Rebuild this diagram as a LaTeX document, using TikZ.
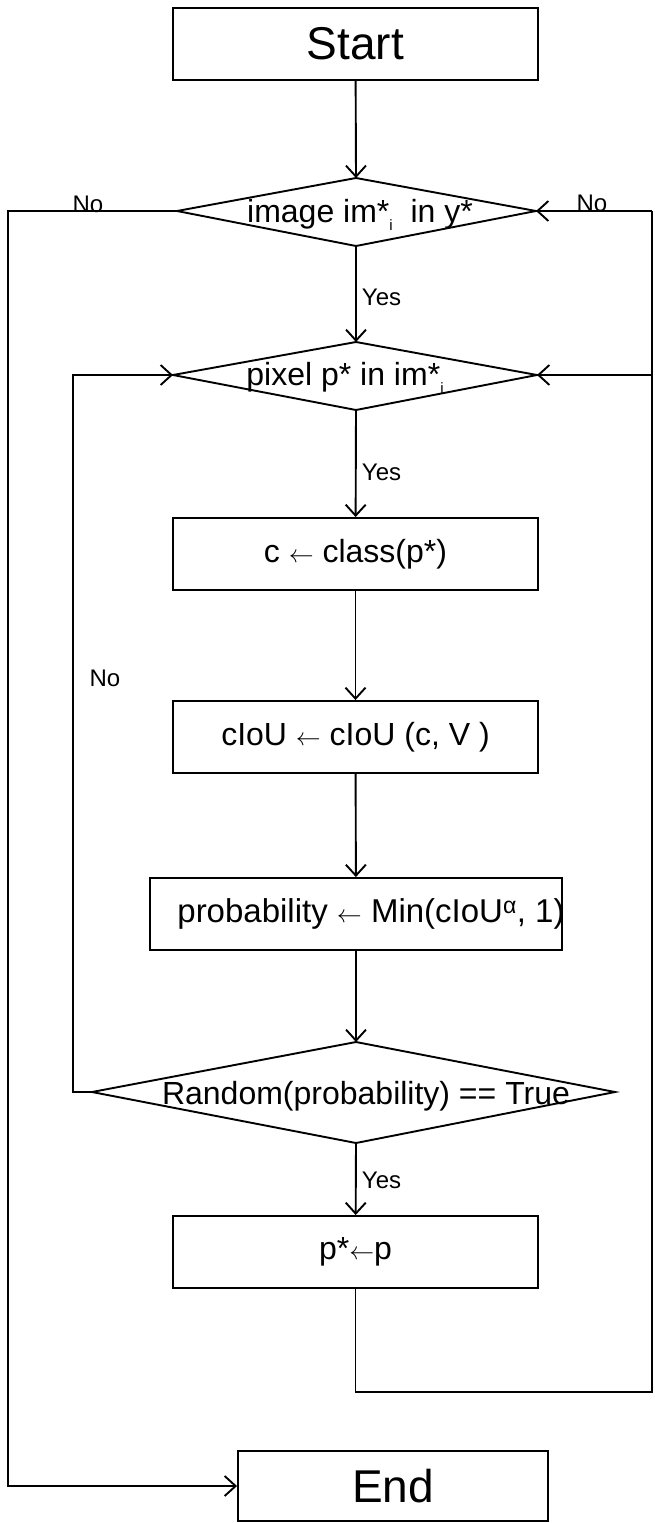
\documentclass[tikz,border=0pt]{standalone}
\usepackage{fontspec}
\setmainfont{Liberation Sans}
\usetikzlibrary{arrows.meta}
\begin{document}
\begin{tikzpicture}[x=1pt,y=-1pt,
  line width=1.9pt,
  box/.style={draw, minimum width=365pt, minimum height=72pt, inner sep=0pt, font=\fontsize{32}{38}\selectfont},
  bigbox/.style={box, font=\fontsize{46}{52}\selectfont},
  btext/.style={inner sep=0pt, font=\fontsize{33}{38}\selectfont},
  dtext/.style={inner sep=0pt, anchor=base, font=\fontsize{32}{38}\selectfont},
  lbl/.style={inner sep=0pt, font=\fontsize{24}{28}\selectfont},
  arr/.style={-{Straight Barb[length=11pt,width=20pt]}},
]
\useasboundingbox (0,0) rectangle (654,1523);
\newcommand{\subi}{\raisebox{-8pt}{\fontsize{15}{15}\selectfont i}}

% boxes
\node[bigbox] (start) at (355.5,44) {Start};
\node[box] (cls) at (355.5,554) {c $\leftarrow$ class(p*)};
\node[box] (ciou) at (355.5,737) {cIoU $\leftarrow$ cIoU (c, V )};
\node[box, minimum width=412pt] (prob) at (356,914) {};
\node[btext] (probtxt) at (371,914) {probability $\leftarrow$ Min(cIoU\textsuperscript{α}, 1)};
\node[box] (pst) at (355.5,1252) {p*$\leftarrow$p};
\node[bigbox, minimum width=310pt, minimum height=70pt] (end) at (393,1486) {End};

% diamond 1
\coordinate (d1l) at (177,211);
\coordinate (d1t) at (356,178);
\coordinate (d1r) at (536,211);
\coordinate (d1b) at (356,246);
\draw (d1l) -- (d1t) -- (d1r) -- (d1b) -- cycle;
\node[dtext] (d1) at (360,222) {image im*\subi\ \ in y*};

% diamond 2
\coordinate (d2l) at (173,375);
\coordinate (d2t) at (356,342);
\coordinate (d2r) at (537,375);
\coordinate (d2b) at (356,410);
\draw (d2l) -- (d2t) -- (d2r) -- (d2b) -- cycle;
\node[dtext] (d2) at (345,385) {pixel p* in im*\subi};

% diamond 3
\coordinate (d3l) at (92,1092);
\coordinate (d3t) at (356,1042);
\coordinate (d3r) at (615,1092);
\coordinate (d3b) at (356,1143);
\draw (d3l) -- (d3t) -- (d3r) -- (d3b) -- cycle;
\node[dtext] (d3) at (366,1104) {Random(probability) == True};

% labels
\node[lbl] (no1) at (88,204) {No};
\node[lbl] (no2) at (592,203) {No};
\node[lbl] (no3) at (105,678) {No};
\node[lbl, anchor=west] (yes1) at (361,297) {Yes};
\node[lbl, anchor=west] (yes2) at (361,472) {Yes};
\node[lbl, anchor=west] (yes3) at (361,1180) {Yes};

% helper coordinates
\coordinate (rb) at (652,1392);
\coordinate (rt) at (652,211);
\coordinate (lc) at (73,375);
\coordinate (lo) at (8,211);

% main flow
\draw[arr] (start) -- (d1t);
\draw[arr] (d1b) -- (d2t);
\draw[arr] (d2b) -- (cls);
\draw[arr] (cls) -- (ciou);
\draw[arr] (ciou) -- (prob);
\draw[arr] (prob) -- (d3t);
\draw[arr] (d3b) -- (pst);

% right loop
\draw (pst.south) |- (rb) -- (rt);
\draw[arr] (rt) -- (d1r);
\draw[arr] (rt |- d2r) -- (d2r);

% left loops
\draw[arr] (d3l) -| (lc) -- (d2l);
\draw[arr] (d1l) -- (lo) |- (end.west);
\end{tikzpicture}
\end{document}
